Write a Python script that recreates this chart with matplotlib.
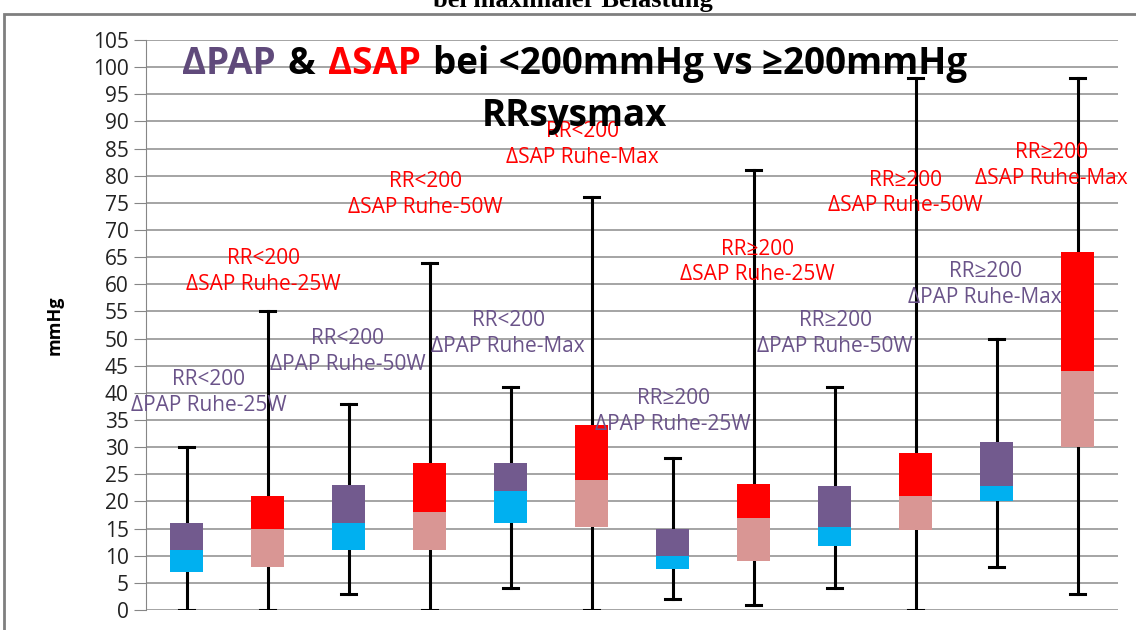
import matplotlib.pyplot as plt
from matplotlib.patches import Rectangle
from matplotlib.offsetbox import TextArea, HPacker, AnnotationBbox

plt.rcParams['font.family'] = ['Open Sans', 'DejaVu Sans']

# one box per group: PAP / SAP alternating, first six RR<200, last six RR>=200
groups = ["RR<200\nΔPAP Ruhe-25W", "RR<200\nΔSAP Ruhe-25W",
          "RR<200\nΔPAP Ruhe-50W", "RR<200\nΔSAP Ruhe-50W",
          "RR<200\nΔPAP Ruhe-Max", "RR<200\nΔSAP Ruhe-Max",
          "RR≥200\nΔPAP Ruhe-25W", "RR≥200\nΔSAP Ruhe-25W",
          "RR≥200\nΔPAP Ruhe-50W", "RR≥200\nΔSAP Ruhe-50W",
          "RR≥200\nΔPAP Ruhe-Max", "RR≥200\nΔSAP Ruhe-Max"]
kind = ["PAP", "SAP"] * 6
w_min = [0, 0, 3, 0, 4, 0, 2, 1, 4, 0, 8, 3]
q1 = [7, 8, 11, 11, 16, 15.3, 7.5, 9, 11.7, 14.8, 20, 30]
median = [11, 15, 16, 18, 22, 24, 10, 17, 15.3, 21, 22.8, 44]
q3 = [16, 21, 23, 27, 27, 34, 15, 23.2, 22.8, 29, 31, 66]
w_max = [30, 55, 38, 64, 41, 76, 28, 81, 41, 98, 50, 98]

# where each group's label sits (x offset from box, y in mmHg)
label_dx = [0.27, -0.05, -0.01, -0.05, -0.03, -0.11, 0.01, 0.05, 0.01, -0.12, -0.14, -0.32]
label_y = [40.1, 62.3, 47.6, 76.6, 51.0, 85.7, 36.6, 64.1, 51.0, 76.8, 60.0, 81.9]

colors = {
    "PAP": {"low": "#00B0F0", "high": "#725A8E", "text": "#6A5389"},
    "SAP": {"low": "#D99694", "high": "#FF0000", "text": "#FF0000"},
}

fig = plt.figure(figsize=(11.36, 6.3), dpi=100)
ax = fig.add_axes([146 / 1136, 1 - 610 / 630, (1118 - 146) / 1136, (610 - 40) / 630])

x = list(range(len(groups)))
box_w = 0.4
for i in x:
    c = colors[kind[i]]
    ax.plot([i, i], [w_min[i], q1[i]], color="black", lw=2.2, zorder=2)
    ax.plot([i, i], [q3[i], w_max[i]], color="black", lw=2.2, zorder=2)
    for y in (w_min[i], w_max[i]):
        ax.plot([i - 0.09, i + 0.09], [y, y], color="black", lw=2.2, zorder=2)
    ax.bar(i, median[i] - q1[i], bottom=q1[i], width=box_w, color=c["low"], zorder=3)
    ax.bar(i, q3[i] - median[i], bottom=median[i], width=box_w, color=c["high"], zorder=3)
    ax.text(i + label_dx[i], label_y[i], groups[i], color=c["text"], fontsize=15,
            ha="center", va="center", linespacing=1.3, zorder=4)

ax.set_xlim(-0.5, 11.5)
ax.set_ylim(0, 105)
ax.set_yticks(range(0, 106, 5))
ax.set_xticks([])
ax.tick_params(axis="y", labelsize=15, length=9, color="#868686", labelcolor="#222222")
ax.grid(axis="y", color="#8C8C8C", lw=1.1, zorder=0)
ax.set_axisbelow(True)
for side in ("top", "right", "bottom"):
    ax.spines[side].set_visible(False)
ax.spines["left"].set_color("#868686")
ax.set_ylabel("mmHg", fontsize=13, fontweight="bold", labelpad=21)

# two-colour headline inside the plot
parts = [("ΔPAP", "#604A7B"), ("&", "black"), ("ΔSAP", "#FF0000"),
         ("bei <200mmHg vs ≥200mmHg", "black")]
boxes = [TextArea(t, textprops=dict(color=col, fontsize=26.5, fontweight="bold"))
         for t, col in parts]
head = HPacker(children=boxes, align="baseline", pad=0, sep=9)
ax.add_artist(AnnotationBbox(head, (0.441, 100.6), xycoords=("axes fraction", "data"),
                             frameon=False, box_alignment=(0.5, 0.5), zorder=5))
ax.text(0.441, 91.0, "RRsysmax", transform=ax.get_yaxis_transform(), fontsize=26.5,
        fontweight="bold", ha="center", va="center", zorder=5)

# frame and the caption line cut off above it
fig.patches.append(Rectangle((4 / 1136, -0.1), 1.2, 1.1 - 14 / 630, transform=fig.transFigure,
                             fill=False, edgecolor="#7F7F7F", lw=2))
fig.text(573 / 1136, 1.0, "bei maximaler Belastung", family="Liberation Serif",
         fontweight="bold", fontsize=19, ha="center", va="center")

fig.savefig("out.png", dpi=100)
